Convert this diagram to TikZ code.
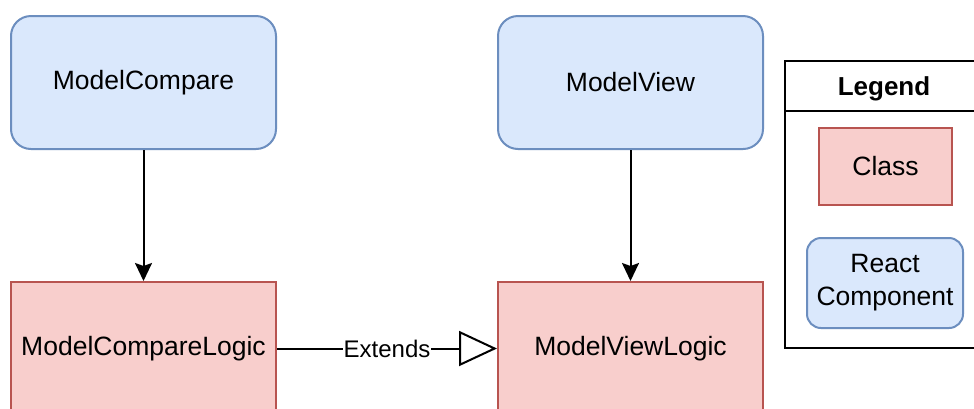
\documentclass[tikz,border=0pt]{standalone}
\usepackage{fontspec}
\setmainfont{Liberation Sans}
\usetikzlibrary{arrows.meta}
\definecolor{bluefill}{HTML}{DAE8FC}
\definecolor{bluedraw}{HTML}{6C8EBF}
\definecolor{redfill}{HTML}{F8CECC}
\definecolor{reddraw}{HTML}{B85450}
\begin{document}
\begin{tikzpicture}[x=1pt,y=-1pt,
  comp/.style={draw=bluedraw,fill=bluefill,line width=2pt,rounded corners=20pt,minimum width=265pt,minimum height=133pt,inner sep=0pt,font=\fontsize{26.5}{32}\selectfont,align=center},
  cls/.style={draw=reddraw,fill=redfill,line width=2pt,minimum width=265pt,minimum height=133pt,inner sep=0pt,font=\fontsize{26.5}{32}\selectfont,align=center},
  conn/.style={line width=2pt,-{Stealth[length=18pt,width=17pt,inset=3pt]}},
  ext/.style={line width=2pt,-{Triangle[open,length=38pt,width=35pt,fill=white]}},
]
\clip (0,0) rectangle (974,408);
\fill[white] (0,0) rectangle (974,408);
\node[comp] (mc) at (143.5,82.5) {ModelCompare};
\node[comp] (mv) at (630.5,82.5) {ModelView};
\node[cls] (mcl) at (143.5,348.5) {ModelCompareLogic};
\node[cls] (mvl) at (630.5,348.5) {ModelViewLogic};
\draw[conn] (mc) -- (mcl);
\draw[conn] (mv) -- (mvl);
\draw[ext] (mcl) -- node[fill=white,inner sep=1pt,font=\fontsize{24}{28}\selectfont] (extlbl) {Extends} (mvl);
% legend
\node[draw=black,line width=2pt,minimum width=198pt,minimum height=287pt,inner sep=0pt] (leg) at (884,204.5) {};
\coordinate (hl) at (785,111);
\coordinate (hr) at (983,111);
\draw[line width=2pt] (hl) -- (hr);
\node[font=\bfseries\fontsize{26}{30}\selectfont] (legt) at (884,89) {Legend};
\node[cls,minimum width=133pt,minimum height=77pt] (lcls) at (885.5,166) {Class};
\node[comp,minimum width=156pt,minimum height=90pt,rounded corners=14pt,font=\fontsize{26.5}{33}\selectfont] (lcomp) at (885,283) {React\\Component};
\end{tikzpicture}
\end{document}
